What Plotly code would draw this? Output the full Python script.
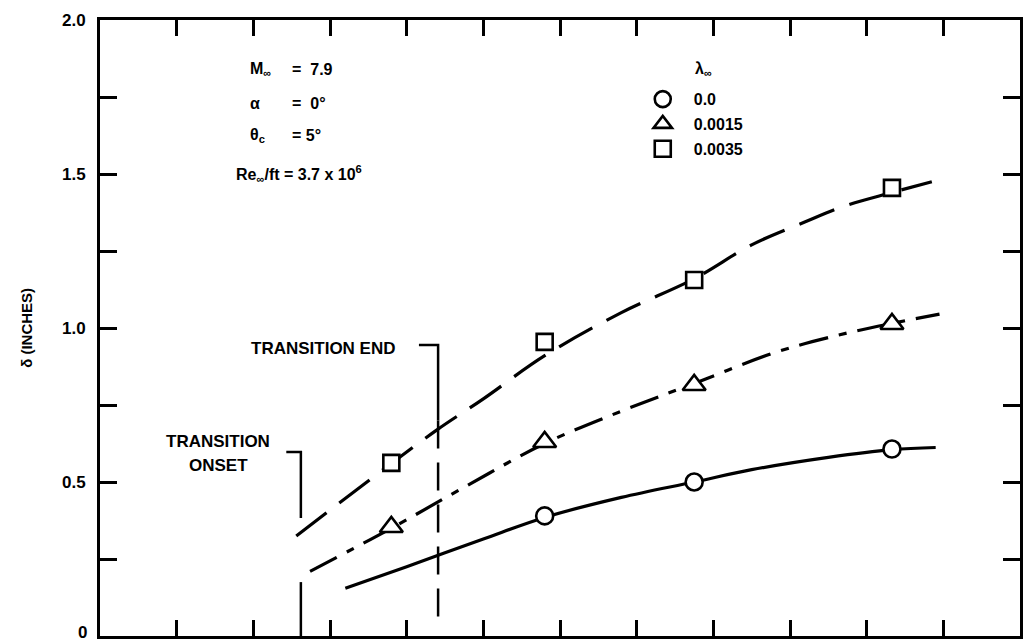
import plotly.graph_objects as go

# Measuring stations (x, arbitrary axis units 0..12) and boundary-layer thickness
stations = [3.8, 5.8, 7.75, 10.33]

lam_labels = ["0.0", "0.0015", "0.0035"]

# Measured delta (inches) for each lambda
delta_circle_x = [5.8, 7.75, 10.33]
delta_circle = [0.39, 0.50, 0.607]
delta_triangle = [0.354, 0.63, 0.815, 1.013]
delta_square = [0.562, 0.955, 1.156, 1.455]

# Faired curves through the data
fair_circle_x = [3.2, 4.0, 5.0, 5.8, 6.8, 7.75, 8.5, 9.5, 10.33, 10.9]
fair_circle_y = [0.155, 0.225, 0.315, 0.385, 0.45, 0.50, 0.54, 0.58, 0.605, 0.612]

fair_tri_x = [2.74, 3.8, 4.8, 5.8, 6.8, 7.75, 8.8, 9.6, 10.33, 10.95]
fair_tri_y = [0.21, 0.35, 0.49, 0.625, 0.73, 0.82, 0.92, 0.975, 1.015, 1.045]

fair_sq_x = [2.56, 3.8, 4.4, 5.0, 5.8, 6.8, 7.75, 8.5, 9.2, 9.7, 10.33, 10.85]
fair_sq_y = [0.325, 0.56, 0.67, 0.77, 0.91, 1.05, 1.16, 1.27, 1.345, 1.395, 1.44, 1.475]

# Transition markers
x_onset = 2.62
x_end = 4.41

y_ticks = [0, 0.25, 0.5, 0.75, 1.0, 1.25, 1.5, 1.75, 2.0]
y_ticktext = ["", "", "0.5", "", "1.0", "", "1.5", "", "2.0"]
y_zero_label = "0"
x_ticks = list(range(1, 12))

FONT = "Liberation Sans, Arial, sans-serif"
INK = "black"

fig = go.Figure()

line_w = 3.2
fig.add_trace(go.Scatter(x=fair_circle_x, y=fair_circle_y, mode="lines",
                         line=dict(color=INK, width=line_w, shape="spline"),
                         showlegend=False, hoverinfo="skip"))
fig.add_trace(go.Scatter(x=fair_tri_x, y=fair_tri_y, mode="lines",
                         line=dict(color=INK, width=line_w, shape="spline",
                                   dash="30px,11px,8px,11px"),
                         showlegend=False, hoverinfo="skip"))
fig.add_trace(go.Scatter(x=fair_sq_x, y=fair_sq_y, mode="lines",
                         line=dict(color=INK, width=line_w, shape="spline",
                                   dash="38px,16px"),
                         showlegend=False, hoverinfo="skip"))

marker_line = dict(color=INK, width=2.6)
fig.add_trace(go.Scatter(x=delta_circle_x, y=delta_circle, mode="markers",
                         name=lam_labels[0], legendgroup="a",
                         marker=dict(symbol="circle", size=17, color="white",
                                     line=marker_line)))
fig.add_trace(go.Scatter(x=stations, y=delta_triangle, mode="markers",
                         name=lam_labels[1], legendgroup="b",
                         marker=dict(symbol="triangle-up", size=20, color="white",
                                     line=marker_line)))
fig.add_trace(go.Scatter(x=stations, y=delta_square, mode="markers",
                         name=lam_labels[2], legendgroup="c",
                         marker=dict(symbol="square", size=16, color="white",
                                     line=marker_line)))

# Transition onset bracket (solid)
fig.add_shape(type="path",
              path=f"M {x_onset - 0.19} 0.597 L {x_onset} 0.597 L {x_onset} 0.383",
              line=dict(color=INK, width=2.5))
fig.add_shape(type="line", x0=x_onset, x1=x_onset, y0=0.175, y1=0.0,
              line=dict(color=INK, width=2.5))
# Transition end bracket (dashed leader)
fig.add_shape(type="path",
              path=f"M {x_end - 0.25} 0.945 L {x_end} 0.945 L {x_end} 0.70",
              line=dict(color=INK, width=2.5))
fig.add_shape(type="line", x0=x_end, x1=x_end, y0=0.70, y1=0.05,
              line=dict(color=INK, width=2.5, dash="28px,14px"))

tf = dict(family=FONT, size=17, color=INK, weight="bold")
ann = []
ann.append(dict(x=1.54, y=0.630, text="TRANSITION", showarrow=False, font=tf,
                xanchor="center", yanchor="middle"))
ann.append(dict(x=1.54, y=0.552, text="ONSET", showarrow=False, font=tf,
                xanchor="center", yanchor="middle"))
ann.append(dict(x=2.91, y=0.935, text="TRANSITION END", showarrow=False, font=tf,
                xanchor="center", yanchor="middle"))

# Flow conditions
cf = dict(family=FONT, size=16, color=INK, weight="bold")
col1, col2 = 1.93, 2.48
rows = [(1.838, "M<sub>∞</sub>", "=  7.9"),
        (1.73, "α", "=  0°"),
        (1.625, "θ<sub>c</sub>", "= 5°")]
for yv, lhs, rhs in rows:
    ann.append(dict(x=col1, y=yv, text=lhs, showarrow=False, font=cf,
                    xanchor="left", yanchor="middle"))
    ann.append(dict(x=col2, y=yv, text=rhs, showarrow=False, font=cf,
                    xanchor="left", yanchor="middle"))
ann.append(dict(x=1.75, y=1.50, text="Re<sub>∞</sub>/ft = 3.7 x 10<sup>6</sup>",
                showarrow=False, font=cf, xanchor="left", yanchor="middle"))

# Legend heading
ann.append(dict(x=7.73, y=1.838, text="λ<sub>∞</sub>", showarrow=False, font=cf,
                xanchor="left", yanchor="middle"))

# Origin label, kept inside the page edge
ann.append(dict(x=-0.012, y=0, xref="paper", yref="y", text=y_zero_label,
                showarrow=False, xanchor="right", yanchor="bottom", yshift=-8,
                font=dict(family=FONT, size=17, color=INK, weight="bold")))

# Y-axis title
ann.append(dict(x=-0.092, y=0.5, xref="paper", yref="paper", text="δ (INCHES)",
                textangle=-90, showarrow=False,
                font=dict(family=FONT, size=15, color=INK, weight="bold")))

for a in ann:
    a.setdefault("xref", "x")
    a.setdefault("yref", "y")
fig.update_layout(annotations=ann)

axis_common = dict(showgrid=False, zeroline=False, showline=True, linecolor=INK,
                   linewidth=3, mirror="ticks", ticks="inside", tickcolor=INK,
                   tickwidth=2.5, automargin=False)
fig.update_xaxes(range=[0, 12], tickvals=x_ticks, ticklen=16,
                 showticklabels=False, **axis_common)
fig.update_yaxes(range=[0, 2], tickvals=y_ticks, ticktext=y_ticktext, ticklen=17,
                 tickfont=dict(family=FONT, size=17, color=INK, weight="bold"),
                 ticklabelstandoff=8, **axis_common)

fig.update_layout(
    width=1027, height=644,
    margin=dict(l=100, r=7, t=20, b=8, autoexpand=False),
    paper_bgcolor="white", plot_bgcolor="white",
    font=dict(family=FONT, color=INK),
    legend=dict(x=0.578, y=0.899, xanchor="left", yanchor="top",
                traceorder="grouped", tracegroupgap=1, itemwidth=52,
                font=dict(family=FONT, size=16, color=INK, weight="bold"),
                bgcolor="rgba(0,0,0,0)"),
)

fig.write_html("out.html")
